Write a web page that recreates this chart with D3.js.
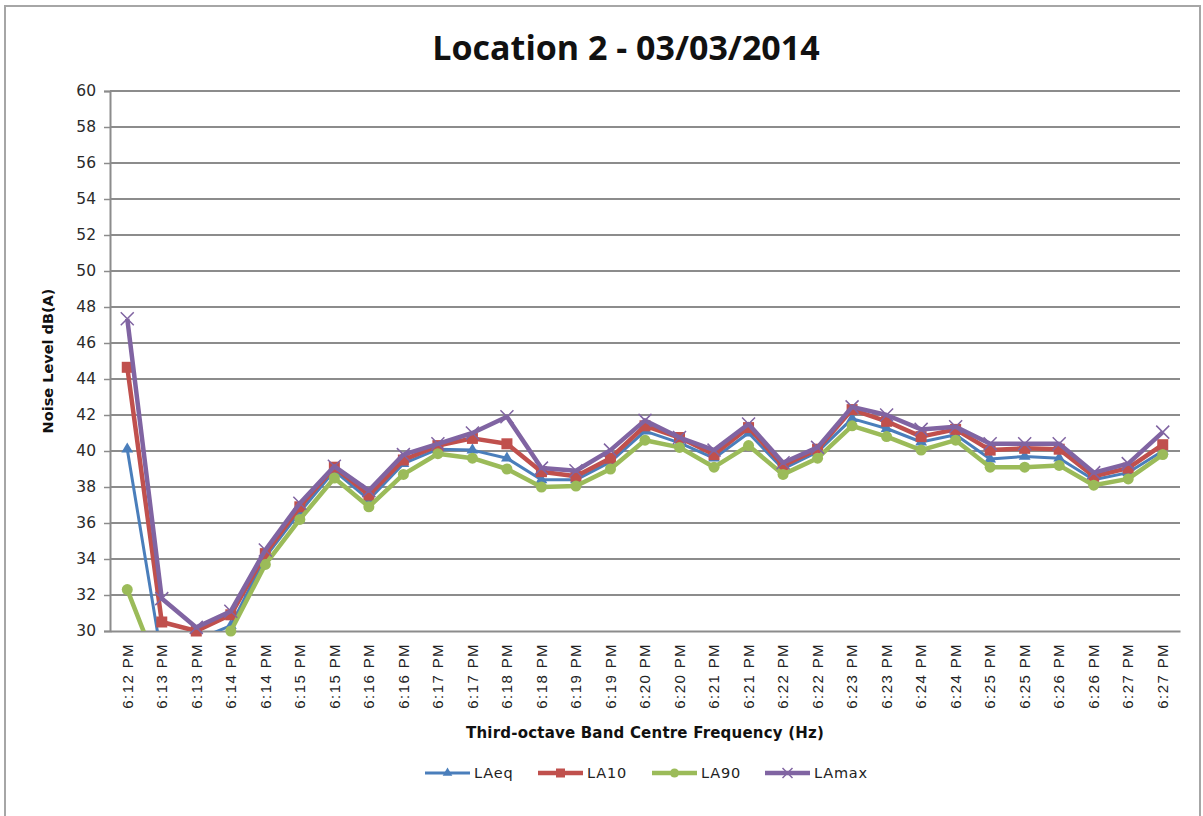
<!DOCTYPE html>
<html>
<head>
<meta charset="utf-8">
<script src="https://cdn.jsdelivr.net/npm/d3@7"></script>
<style>
  body { margin: 0; background: #fff; }
  svg { display: block; }
</style>
</head>
<body>
<svg id="chart" width="1203" height="816"></svg>
<script>
// chart values
var times = ["6:12 PM", "6:13 PM", "6:13 PM", "6:14 PM", "6:14 PM", "6:15 PM", "6:15 PM",
    "6:16 PM", "6:16 PM", "6:17 PM", "6:17 PM", "6:18 PM", "6:18 PM", "6:19 PM", "6:19 PM",
    "6:20 PM", "6:20 PM", "6:21 PM", "6:21 PM", "6:22 PM", "6:22 PM", "6:23 PM", "6:23 PM",
    "6:24 PM", "6:24 PM", "6:25 PM", "6:25 PM", "6:26 PM", "6:26 PM", "6:27 PM", "6:27 PM"];

var laeq = [40.1, 28.5, 29.5, 30.3, 34.1, 36.6, 38.9, 37.3, 39.3, 40.1, 40.05, 39.6, 38.4, 38.4, 39.4,
    41.1, 40.45, 39.6, 41.0, 39.0, 39.95, 41.8, 41.25, 40.5, 40.9, 39.55, 39.7, 39.6, 38.4, 38.8, 40.0];
var la10 = [44.65, 30.5, 30.0, 30.9, 34.3, 36.9, 39.1, 37.55, 39.5, 40.3, 40.7, 40.4, 38.85, 38.6, 39.6,
    41.4, 40.75, 39.8, 41.3, 39.2, 40.1, 42.3, 41.65, 40.8, 41.2, 40.05, 40.15, 40.1, 38.6, 39.05, 40.35];
var la90 = [32.3, 27.4, 28.5, 30.0, 33.7, 36.2, 38.5, 36.9, 38.7, 39.85, 39.6, 39.0, 38.0, 38.05, 39.0,
    40.6, 40.2, 39.1, 40.3, 38.7, 39.6, 41.4, 40.8, 40.05, 40.6, 39.1, 39.1, 39.2, 38.1, 38.45, 39.8];
var lamax = [47.35, 31.8, 30.2, 31.1, 34.5, 37.1, 39.15, 37.8, 39.8, 40.4, 41.0, 41.9, 39.05, 38.9, 40.05,
    41.7, 40.75, 40.05, 41.5, 39.35, 40.2, 42.45, 42.0, 41.2, 41.35, 40.4, 40.4, 40.4, 38.8, 39.3, 41.05];

var seriesNames = ["LAeq", "LA10", "LA90", "LAmax"];
var yTicks = [30, 32, 34, 36, 38, 40, 42, 44, 46, 48, 50, 52, 54, 56, 58, 60];

var series = [
    { name: "LAeq", values: laeq, color: "#4a7ebb", width: 3, marker: "triangle" },
    { name: "LA10", values: la10, color: "#c0504d", width: 4.5, marker: "square" },
    { name: "LA90", values: la90, color: "#9bbb59", width: 4.5, marker: "circle" },
    { name: "LAmax", values: lamax, color: "#8064a2", width: 4.5, marker: "cross" }
];

var svg = d3.select("#chart");
var plotLeft = 110, plotRight = 1180, plotTop = 91, plotBottom = 631;

// outer chart border
svg.append("rect")
    .attr("x", 5).attr("y", 6)
    .attr("width", 1195).attr("height", 830)
    .attr("fill", "none")
    .attr("stroke", "#a6a6a6")
    .attr("stroke-width", 2);

svg.append("text")
    .attr("x", 626)
    .attr("y", 60)
    .attr("text-anchor", "middle")
    .attr("font-family", "Open Sans")
    .attr("font-weight", 700)
    .attr("font-size", "34px")
    .attr("fill", "#111")
    .text("Location 2 - 03/03/2014");

var xScale = d3.scaleBand().domain(d3.range(times.length)).range([plotLeft, plotRight]).padding(0);
var yScale = d3.scaleLinear().domain([30, 60]).range([plotBottom, plotTop]);
function cx(i) { return xScale(i) + xScale.bandwidth() / 2; }

// grid + y axis
svg.append("g").selectAll("line")
    .data(yTicks.filter(function (d) { return d > 30; }))
    .enter().append("line")
    .attr("x1", plotLeft).attr("x2", plotRight)
    .attr("y1", function (d) { return yScale(d); })
    .attr("y2", function (d) { return yScale(d); })
    .attr("stroke", "#8c8c8c")
    .attr("stroke-width", 2);

var yAxis = svg.append("g")
    .attr("transform", "translate(" + plotLeft + ",0)")
    .call(d3.axisLeft(yScale).tickValues(yTicks).tickSize(6).tickPadding(8).tickFormat(d3.format("d")));
yAxis.select(".domain").attr("stroke", "#8c8c8c").attr("stroke-width", 2);
yAxis.selectAll(".tick line").attr("stroke", "#8c8c8c").attr("stroke-width", 1.5);
yAxis.selectAll(".tick text")
    .attr("font-family", "DejaVu Sans")
    .attr("font-size", "15.5px")
    .attr("fill", "#2a2a2a");

// x axis
var xAxis = svg.append("g")
    .attr("transform", "translate(0," + plotBottom + ")")
    .call(d3.axisBottom(xScale).tickSize(0).tickFormat(function (i) { return times[i]; }));
xAxis.select(".domain").attr("stroke", "#8c8c8c").attr("stroke-width", 2);
xAxis.selectAll(".tick text")
    .attr("font-family", "Liberation Sans")
    .attr("font-size", "15px")
    .attr("letter-spacing", "1.4px")
    .attr("fill", "#222")
    .attr("text-anchor", "end")
    .attr("dy", "0.35em")
    .attr("transform", "translate(0,12) rotate(-90)")
    .attr("y", 0).attr("x", 0);

svg.append("text")
    .attr("x", 645).attr("y", 738)
    .attr("text-anchor", "middle")
    .attr("font-family", "DejaVu Sans")
    .attr("font-weight", "bold")
    .attr("font-size", "15px")
    .attr("letter-spacing", "0.2px")
    .attr("fill", "#111")
    .text("Third-octave  Band Centre Frequency (Hz)");

svg.append("text")
    .attr("transform", "translate(53,361) rotate(-90)")
    .attr("text-anchor", "middle")
    .attr("font-family", "DejaVu Sans")
    .attr("font-weight", "bold")
    .attr("font-size", "14.5px")
    .attr("fill", "#111")
    .text("Noise Level dB(A)");

svg.append("clipPath").attr("id", "plot")
    .append("rect")
    .attr("x", plotLeft).attr("y", plotTop - 20)
    .attr("width", plotRight - plotLeft + 20).attr("height", plotBottom - plotTop + 20);

function drawMarker(g, type, x, y, color, s) {
    if (type === "triangle") {
        g.append("path")
            .attr("d", d3.symbol().type(d3.symbolTriangle).size(s * s * 0.5)())
            .attr("transform", "translate(" + x + "," + y + ")")
            .attr("fill", color);
    } else if (type === "square") {
        g.append("rect")
            .attr("x", x - s / 2).attr("y", y - s / 2)
            .attr("width", s).attr("height", s)
            .attr("fill", color);
    } else if (type === "circle") {
        g.append("circle")
            .attr("cx", x).attr("cy", y).attr("r", s / 2)
            .attr("fill", color);
    } else {
        g.append("path")
            .attr("d", "M" + (x - s / 2) + "," + (y - s / 2) + "L" + (x + s / 2) + "," + (y + s / 2) +
                "M" + (x - s / 2) + "," + (y + s / 2) + "L" + (x + s / 2) + "," + (y - s / 2))
            .attr("stroke", color)
            .attr("stroke-width", 1.5);
    }
}

var line = d3.line()
    .x(function (d, i) { return cx(i); })
    .y(function (d) { return yScale(d); });

series.forEach(function (s) {
    var g = svg.append("g");
    g.append("path")
        .datum(s.values)
        .attr("clip-path", "url(#plot)")
        .attr("d", line)
        .attr("fill", "none")
        .attr("stroke", s.color)
        .attr("stroke-width", s.width)
        .attr("stroke-linejoin", "round");
    s.values.forEach(function (v, i) {
        if (v < 30) return;
        drawMarker(g, s.marker, cx(i), yScale(v), s.color, s.marker === "cross" ? 13 : 11);
    });
});

// legend
var legendX = [425, 538, 652, 765];
series.forEach(function (s, i) {
    var g = svg.append("g").attr("transform", "translate(" + legendX[i] + ",773)");
    g.append("line")
        .attr("x1", 0).attr("x2", 45)
        .attr("stroke", s.color)
        .attr("stroke-width", s.width);
    drawMarker(g, s.marker, 22.5, 0, s.color, s.marker === "cross" ? 10 : 9);
    g.append("text")
        .attr("x", 49).attr("y", 0)
        .attr("dy", "0.35em")
        .attr("font-family", "DejaVu Sans")
        .attr("font-size", "14.5px")
        .attr("letter-spacing", "0.8px")
        .attr("fill", "#222")
        .text(seriesNames[i]);
});
</script>
</body>
</html>
